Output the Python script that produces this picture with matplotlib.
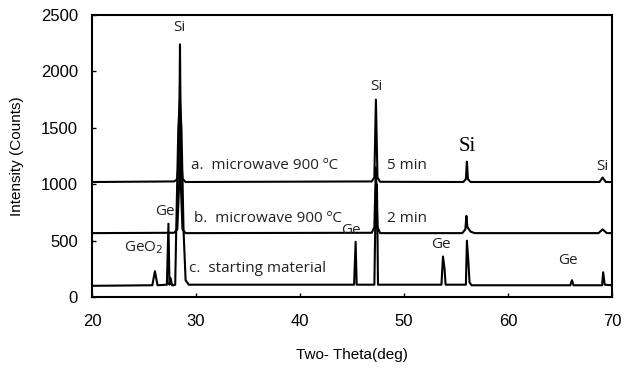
import matplotlib.pyplot as plt

# trace a: microwave 900 C, 5 min
a_x = [20, 27.9, 28.2, 28.38, 28.46, 28.54, 28.7, 29.0, 46.9, 47.15, 47.3, 47.45, 47.7,
       55.7, 55.95, 56.05, 56.15, 56.4, 68.8, 69.1, 69.4, 70]
a_y = [1020, 1025, 1045, 1300, 2240, 1300, 1050, 1020, 1025, 1060, 1750, 1060, 1022,
       1020, 1045, 1200, 1045, 1020, 1020, 1060, 1020, 1020]

# trace b: microwave 900 C, 2 min
b_x = [20, 27.9, 28.2, 28.38, 28.46, 28.54, 28.7, 29.0, 46.9, 47.15, 47.3, 47.45, 47.7,
       55.6, 55.9, 56.0, 56.1, 56.4, 56.8, 68.7, 69.1, 69.5, 70]
b_y = [567, 570, 600, 1000, 1870, 1000, 600, 567, 570, 620, 1150, 620, 567,
       567, 600, 720, 620, 580, 567, 567, 600, 567, 567]

# trace c: starting material
c_x = [20, 25.8, 26.05, 26.3, 27.2, 27.35, 27.45, 27.55, 27.7, 27.85, 28.0, 28.1, 28.3,
       28.45, 28.6, 28.8, 29.0, 29.3, 45.2, 45.35, 45.45, 47.15, 47.3, 47.4, 47.5, 47.8,
       53.6, 53.75, 53.9, 54.0, 55.95, 56.05, 56.2, 56.3, 56.5, 66.0, 66.15, 66.3,
       69.05, 69.15, 69.3, 70]
c_y = [100, 105, 230, 105, 110, 650, 110, 170, 105, 105, 110, 600, 1500,
       1750, 1500, 600, 150, 110, 110, 490, 110, 110, 1000, 1000, 110, 110,
       110, 360, 250, 110, 110, 500, 300, 130, 105, 105, 150, 105,
       105, 220, 110, 105]

plt.rcParams['font.family'] = ['Liberation Sans', 'DejaVu Sans']
fig = plt.figure(figsize=(6.28, 3.70), dpi=100)
ax = fig.add_axes([0.1465, 0.197, 0.828, 0.7625])

for xs, ys in [(c_x, c_y), (b_x, b_y), (a_x, a_y)]:
    ax.plot(xs, ys, color='black', lw=1.5)

ax.set_xlim(20, 70)
ax.set_ylim(0, 2500)
ax.set_xticks([20, 30, 40, 50, 60, 70])
ax.set_yticks([0, 500, 1000, 1500, 2000, 2500])
ax.tick_params(direction='in', length=3, width=1, labelsize=12)
ax.tick_params(axis='x', pad=12)
ax.tick_params(axis='y', pad=10)
for s in ax.spines.values():
    s.set_linewidth(1.5)

ax.set_xlabel('Two- Theta(deg)', fontsize=11, labelpad=14)
ax.set_ylabel('Intensity (Counts)', fontsize=11, labelpad=12)

tf = dict(fontsize=11, color='#222222', family=['Open Sans', 'DejaVu Sans'])
ax.text(28.4, 2320, 'Si', ha='center', va='bottom', **tf)
ax.text(47.3, 1800, 'Si', ha='center', va='bottom', **tf)
ax.text(56.1, 1250, 'Si', ha='center', va='bottom', fontsize=15, family='Liberation Serif')
ax.text(69.1, 1090, 'Si', ha='center', va='bottom', **tf)
ax.text(27.0, 690, 'Ge', ha='center', va='bottom', **tf)
ax.text(25.0, 360, 'GeO$_2$', ha='center', va='bottom', **tf)
ax.text(44.9, 520, 'Ge', ha='center', va='bottom', **tf)
ax.text(53.6, 400, 'Ge', ha='center', va='bottom', **tf)
ax.text(65.8, 260, 'Ge', ha='center', va='bottom', **tf)

ax.text(29.5, 1170, 'a.  microwave 900 ºC', va='center', **tf)
ax.text(48.4, 1170, '5 min', va='center', **tf)
ax.text(29.8, 700, 'b.  microwave 900 ºC', va='center', **tf)
ax.text(48.4, 700, '2 min', va='center', **tf)
ax.text(29.3, 250, 'c.  starting material', va='center', **tf)

plt.savefig('out.png', dpi=100)
